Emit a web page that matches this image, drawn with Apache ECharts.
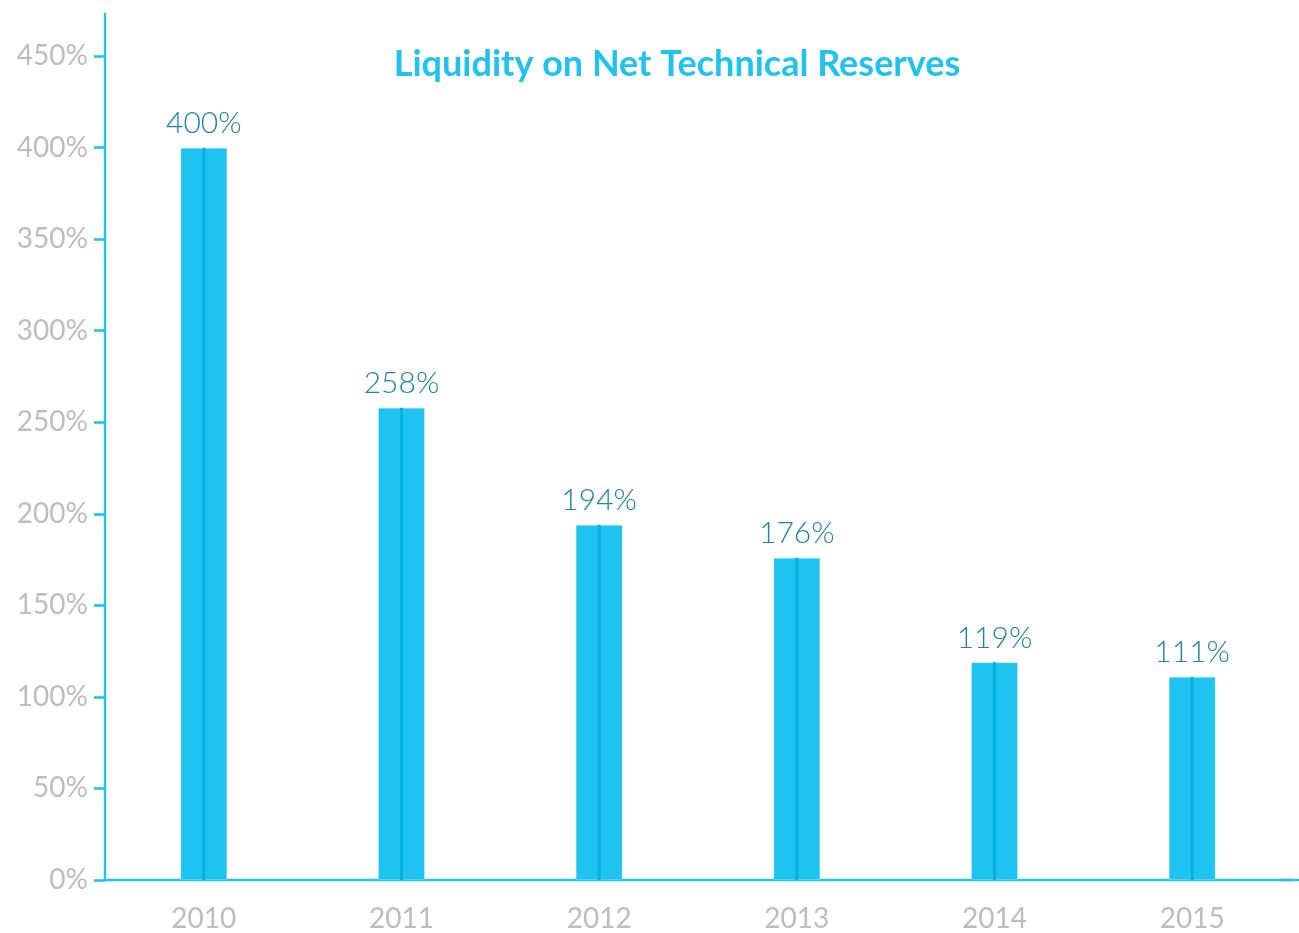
<!DOCTYPE html>
<html>
<head>
<meta charset="utf-8">
<style>
  html, body { margin: 0; padding: 0; background: #ffffff; }
  #chart { width: 1299px; height: 933px; }
</style>
<script src="https://cdn.jsdelivr.net/npm/echarts@6/dist/echarts.min.js"></script>
</head>
<body>
<div id="chart"></div>
<script>
// Liquidity ratio on net technical reserves, by year (%)
const years = ['2010', '2011', '2012', '2013', '2014', '2015'];
const liquidity = [400, 258, 194, 176, 119, 111];
const yTicks = [0, 50, 100, 150, 200, 250, 300, 350, 400, 450];

const BLUE = '#1ec3ef';
const STRIPE = '#05b0e6';
const LABEL = '#1d86a0';
const GREY = '#bdbdbd';
const FONT = 'Lato, "Open Sans", sans-serif';

const chart = echarts.init(document.getElementById('chart'), null, { renderer: 'canvas' });

chart.setOption({
  animation: false,
  title: {
    text: 'Liquidity on Net Technical Reserves',
    left: 672,
    textAlign: 'center',
    top: 41,
    textStyle: { color: BLUE, fontFamily: FONT, fontWeight: 'bold', fontSize: 36 }
  },
  grid: { left: 105, right: 8, top: 14, bottom: 53, containLabel: false },
  xAxis: [
    {
      type: 'category',
      data: years,
      axisLine: {
        lineStyle: { color: BLUE, width: 2.4 },
        symbol: ['none', 'rect'],
        symbolSize: [2.4, 16]
      },
      axisTick: { show: false },
      axisLabel: { color: GREY, fontFamily: FONT, fontWeight: 400, fontSize: 28, margin: 25 }
    },
    {
      type: 'category',
      data: years,
      position: 'bottom',
      show: false
    }
  ],
  yAxis: {
    type: 'value',
    min: 0,
    max: 473,
    interval: 50,
    splitLine: { show: false },
    axisLine: { show: true, lineStyle: { color: BLUE, width: 2.4 } },
    axisTick: {
      show: true,
      length: 11,
      lineStyle: { color: BLUE, width: 2.6 },
      customValues: yTicks
    },
    axisLabel: {
      color: GREY,
      fontFamily: FONT,
      fontWeight: 400,
      fontSize: 28,
      margin: 17,
      customValues: yTicks,
      formatter: v => v + '%'
    }
  },
  series: [
    {
      type: 'bar',
      data: liquidity,
      barWidth: 47,
      itemStyle: { color: BLUE, borderColor: 'rgba(255,255,255,0.25)', borderWidth: 1 },
      label: {
        show: true,
        position: 'top',
        distance: 9,
        color: LABEL,
        fontFamily: FONT,
        fontWeight: 300,
        fontSize: 30,
        formatter: p => p.value + '%'
      }
    },
    {
      // thin darker seam down the middle of each bar
      type: 'bar',
      xAxisIndex: 1,
      data: liquidity,
      barWidth: 3,
      itemStyle: { color: STRIPE },
      silent: true
    }
  ]
});
</script>
</body>
</html>
